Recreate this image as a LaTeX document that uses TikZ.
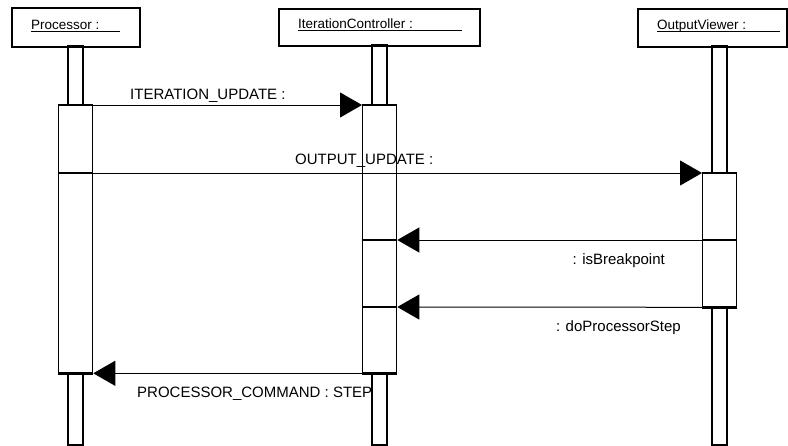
\documentclass[tikz,border=0pt]{standalone}
\usepackage{fontspec}
\setmainfont{Liberation Sans}
\usetikzlibrary{arrows.meta}
\begin{document}
\begin{tikzpicture}[x=1pt,y=-1pt,
  hdr/.style={draw,line width=1.5pt,fill=white,inner sep=0pt,anchor=north west},
  hdrtext/.style={inner sep=0pt,anchor=base west,font=\fontsize{13.5}{15}\selectfont},
  act/.style={draw,line width=1.3pt,fill=white,inner sep=0pt,anchor=north west,minimum width=34pt},
  sep/.style={line width=2.4pt},
  life/.style={draw,line width=1.3pt},
  msg/.style={line width=1pt,-{Triangle[length=22pt,width=25pt]}},
  lbl/.style={inner sep=0pt,font=\fontsize{15}{18}\selectfont}]
\useasboundingbox (0,0) rectangle (788,445);
% headers
\node[hdr,minimum width=128pt,minimum height=39pt] (ph) at (11,7) {};
\node[hdr,minimum width=201pt,minimum height=37pt] (ih) at (278,8) {};
\node[hdr,minimum width=149pt,minimum height=38pt] (oh) at (637,8) {};
\node[hdrtext] (pt) at (31,29) {Processor :};
\node[hdrtext] (it) at (298,28) {IterationController :};
\node[hdrtext] (ot) at (657,29) {OutputViewer :};
\draw[line width=0.8pt] ([yshift=-2pt]pt.base west) -- ++(89,0);
\draw[line width=0.8pt] ([yshift=-2pt]it.base west) -- ++(164,0);
\draw[line width=0.8pt] ([yshift=-2pt]ot.base west) -- ++(123,0);
% lifeline columns
\draw[life] (68,46) rectangle (83,105);
\draw[life] (68,372) rectangle (83,445);
\draw[life] (372,45) rectangle (387,105);
\draw[life] (372,372) rectangle (387,445);
\draw[life] (712,46) rectangle (727,173);
\draw[life] (712,306) rectangle (727,445);
% activation segments
\node[act,minimum height=68pt] (pa1) at (58,105) {};
\node[act,minimum height=199pt] (pa2) at (58,173) {};
\node[act,minimum height=135pt] (ia1) at (362,105) {};
\node[act,minimum height=67pt] (ia2) at (362,240) {};
\node[act,minimum height=65pt] (ia3) at (362,307) {};
\node[act,minimum height=67pt] (oa1) at (702,173) {};
\node[act,minimum height=66pt] (oa2) at (702,240) {};
\foreach \s in {pa1,pa2,ia1,ia2,ia3,oa1,oa2}
  \draw[sep] (\s.north west) -- (\s.north east);
\foreach \s in {pa2,ia3,oa2}
  \draw[sep] (\s.south west) -- (\s.south east);
% messages
\draw[msg] (pa1.north east) -- (ia1.north west);
\draw[msg] (pa2.north east) -- (oa1.north west);
\draw[msg] (oa2.north west) -- (ia2.north east);
\draw[msg] (oa2.south west) -- (ia3.north east);
\draw[msg] (ia3.south west) -- (pa2.south east);
% labels
\node[lbl,anchor=base west] (l1) at (130,99) {ITERATION\_UPDATE :};
\node[lbl,anchor=base west] (l2) at (295,164) {OUTPUT\_UPDATE :};
\node[lbl,anchor=base east] (l3) at (665,264) {: isBreakpoint};
\node[lbl,anchor=base east] (l4) at (681,331) {: doProcessorStep};
\node[lbl,anchor=base west] (l5) at (137,397) {PROCESSOR\_COMMAND : STEP};
\end{tikzpicture}
\end{document}
